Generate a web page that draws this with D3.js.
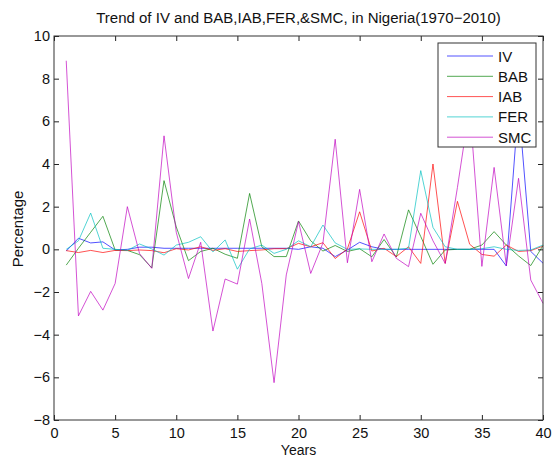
<!DOCTYPE html>
<html>
<head>
<meta charset="utf-8">
<script src="https://cdn.jsdelivr.net/npm/d3@7/dist/d3.min.js"></script>
<style>
  html, body { margin: 0; padding: 0; background: #fff; }
  svg { display: block; }
  text { font-family: "Liberation Sans", Arial, Helvetica, sans-serif; fill: #111; }
</style>
</head>
<body>
<svg id="chart" width="552" height="457"></svg>
<script>
const years = d3.range(1, 41);
const IV  = [-0.08, 0.52, 0.3, 0.35, -0.03, 0, 0.1, 0.1, 0.05, 0.05, 0.05, 0.05, 0.05, 0.05, 0.05, 0.05, 0.05, 0.05, 0.05, 0, 0.12, 0.05, -0.34, -0.03, 0.33, 0.12, 0, 0, 0, 0, 0, 0, 0, 0, 0, 0, -0.78, 6.8, -0.1, -0.65];
const BAB = [-0.74, 0.05, 0.8, 1.55, -0.03, -0.05, -0.25, -0.87, 3.22, 1.05, -0.53, -0.1, 0.05, -0.23, -0.42, 2.62, 0.12, -0.34, -0.34, 1.33, 0.4, -0.08, 0.18, -0.1, 0.03, -0.35, 0.46, -0.36, 1.85, 0.6, -0.7, -0.03, 0, 0, 0.2, 0.83, 0.2, -0.31, -0.76, 0.18];
const IAB = [-0.06, -0.15, -0.05, -0.15, -0.05, -0.06, -0.03, -0.06, -0.16, 0.03, -0.03, 0.12, -0.05, 0.03, -0.1, -0.06, -0.03, 0.03, 0.03, 0.28, 0.12, 0.31, -0.43, 0.02, 1.76, -0.08, 0.05, -0.34, 0.12, -0.66, 4.0, -0.66, 2.25, 0.24, -0.24, -0.32, 0.2, -0.1, -0.06, 0.15];
const FER = [0, 0.4, 1.7, 0.05, 0, -0.05, 0.25, 0.02, -0.27, 0.2, 0.33, 0.59, -0.12, 0.44, -0.93, 0.02, 0.2, -0.19, 0, 0.4, 0.12, 1.14, 0.3, 0, 0.02, 0, 0, 0, 0.05, 3.69, 1.03, 0.12, 0, 0, 0.03, 0.12, 0, -0.05, -0.03, 0.2];
const SMC = [8.84, -3.12, -1.97, -2.85, -1.6, 2.0, -0.2, -0.89, 5.32, 0.8, -1.37, 0.33, -3.83, -1.39, -1.63, 1.42, -1.6, -6.25, -1.2, 1.3, -1.13, 0.3, 5.16, -0.63, 2.81, -0.58, 0.72, -0.42, -0.81, 1.69, 0.4, -0.66, 2.9, 6.7, -0.8, 3.84, -0.76, 3.33, -1.44, -2.53];

const seriesNames = ["IV", "BAB", "IAB", "FER", "SMC"];
const seriesValues = [IV, BAB, IAB, FER, SMC];
const seriesColors = ["#0000ff", "#008000", "#ff0000", "#00bfbf", "#bf00bf"];

const xTicks = [0, 5, 10, 15, 20, 25, 30, 35, 40];
const yTicks = [-8, -6, -4, -2, 0, 2, 4, 6, 8, 10];

const titleText = "Trend of IV and BAB,IAB,FER,&SMC, in Nigeria(1970\u22122010)";
const xLabel = "Years";
const yLabel = "Percentage";

const svg = d3.select("#chart");
const L = 54, R = 543, T = 36, B = 420;

const x = d3.scaleLinear().domain([0, 40]).range([L, R]);
const y = d3.scaleLinear().domain([-8, 10]).range([B, T]);

const tickLen = 5;
const fmt = d => String(d).replace("-", "\u2212");

svg.append("rect").attr("x", L).attr("y", T).attr("width", R - L).attr("height", B - T).attr("fill", "#fff");

const line = d3.line().x((d, i) => x(years[i])).y(d => y(d));
const lineG = svg.append("g");
seriesValues.forEach((vals, k) => {
  lineG.append("path")
    .datum(vals)
    .attr("d", line)
    .attr("fill", "none")
    .attr("stroke", seriesColors[k])
    .attr("stroke-opacity", 0.68)
    .attr("stroke-width", 1);
});

function styleAxis(g, showLabels) {
  g.select(".domain").remove();
  g.selectAll(".tick line").attr("stroke", "#222").attr("stroke-width", 1);
  g.selectAll(".tick text").style("font-size", "14.5px").attr("fill", "#111");
  if (!showLabels) g.selectAll(".tick text").remove();
}
svg.append("g").attr("transform", `translate(0,${B})`)
  .call(d3.axisBottom(x).tickValues(xTicks).tickSize(-tickLen).tickPadding(8).tickFormat(fmt))
  .call(g => styleAxis(g, true));
svg.append("g").attr("transform", `translate(0,${T})`)
  .call(d3.axisTop(x).tickValues(xTicks).tickSize(-tickLen).tickFormat(""))
  .call(g => styleAxis(g, false));
svg.append("g").attr("transform", `translate(${L},0)`)
  .call(d3.axisLeft(y).tickValues(yTicks).tickSize(-tickLen).tickPadding(4).tickFormat(fmt))
  .call(g => styleAxis(g, true));
svg.append("g").attr("transform", `translate(${R},0)`)
  .call(d3.axisRight(y).tickValues(yTicks).tickSize(-tickLen).tickFormat(""))
  .call(g => styleAxis(g, false));

svg.append("rect").attr("x", L).attr("y", T).attr("width", R - L).attr("height", B - T)
  .attr("fill", "none").attr("stroke", "#333").attr("stroke-width", 1);

const lg = svg.append("g");
const lx = 438, ly = 43, lw = 98, lh = 104;
lg.append("rect").attr("x", lx).attr("y", ly).attr("width", lw).attr("height", lh)
  .attr("fill", "#fff").attr("stroke", "#333").attr("stroke-width", 1);
seriesNames.forEach((n, k) => {
  const yy = ly + 13 + k * 20.3;
  lg.append("line").attr("x1", lx + 9).attr("x2", lx + 55).attr("y1", yy).attr("y2", yy)
    .attr("stroke", seriesColors[k]).attr("stroke-opacity", 0.68).attr("stroke-width", 1);
  lg.append("text").attr("x", lx + 60).attr("y", yy + 5.5).text(n).style("font-size", "15px");
});

const title = svg.append("text").attr("x", (L + R) / 2).attr("y", 23).attr("text-anchor", "middle")
  .style("font-size", "14px").text(titleText);
const tw = title.node().getComputedTextLength();
title.style("font-size", (14 * 405 / tw).toFixed(2) + "px");

svg.append("text").attr("x", (L + R) / 2).attr("y", 455).attr("text-anchor", "middle")
  .style("font-size", "14px").text(xLabel);
svg.append("text").attr("transform", `translate(23,229) rotate(-90)`).attr("text-anchor", "middle")
  .style("font-size", "15px").text(yLabel);
</script>
</body>
</html>
